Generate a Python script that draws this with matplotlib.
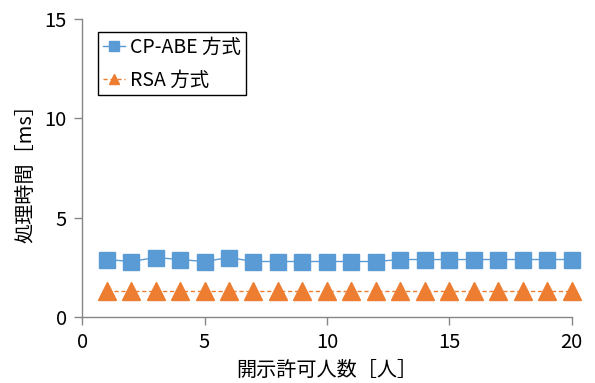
import matplotlib
matplotlib.use("Agg")
import matplotlib.pyplot as plt

plt.rcParams['font.family'] = ['Noto Sans CJK JP', 'DejaVu Sans']

# number of users allowed to disclose
users = list(range(1, 21))
cpabe_ms = [2.9, 2.8, 3.0, 2.9, 2.8, 3.0, 2.8, 2.8, 2.8, 2.8,
            2.8, 2.8, 2.9, 2.9, 2.9, 2.9, 2.9, 2.9, 2.9, 2.9]
rsa_ms = [1.3] * 20

blue = '#5B9BD5'
orange = '#ED7D31'
axis_gray = '#868686'

fig = plt.figure(figsize=(5.95, 3.83), dpi=100)
ax = fig.add_axes([0.138, 0.172, 0.823, 0.778])

ax.plot(users, cpabe_ms, color=blue, lw=1.0, marker='s', ms=11.5,
        label='CP-ABE 方式', clip_on=False, zorder=3)
ax.plot(users, rsa_ms, color=orange, lw=1.0, ls=(0, (3, 2)), marker='^',
        ms=12.5, label='RSA 方式', clip_on=False, zorder=3)

ax.set_xlim(0, 20)
ax.set_ylim(0, 15)
ax.set_xticks([0, 5, 10, 15, 20])
ax.set_yticks([0, 5, 10, 15])

for side in ('top', 'right'):
    ax.spines[side].set_visible(False)
for side in ('left', 'bottom'):
    ax.spines[side].set_color(axis_gray)
    ax.spines[side].set_linewidth(1.0)
ax.tick_params(colors=axis_gray, length=6, width=1.0, labelsize=14.5,
               labelcolor='black', pad=5)

ax.set_xlabel('開示許可人数［人］', fontsize=14.5, labelpad=5)
ax.set_ylabel('処理時間［ms］', fontsize=14.5, labelpad=6)

leg = ax.legend(loc='upper left', bbox_to_anchor=(0.033, 0.957), fontsize=14,
                markerscale=0.6, handlelength=1.1, handletextpad=0.3,
                borderpad=0.25, borderaxespad=0, labelspacing=0.6,
                fancybox=False, edgecolor='black', framealpha=1)
leg.get_frame().set_linewidth(1.0)

fig.savefig('out.png', dpi=100)
